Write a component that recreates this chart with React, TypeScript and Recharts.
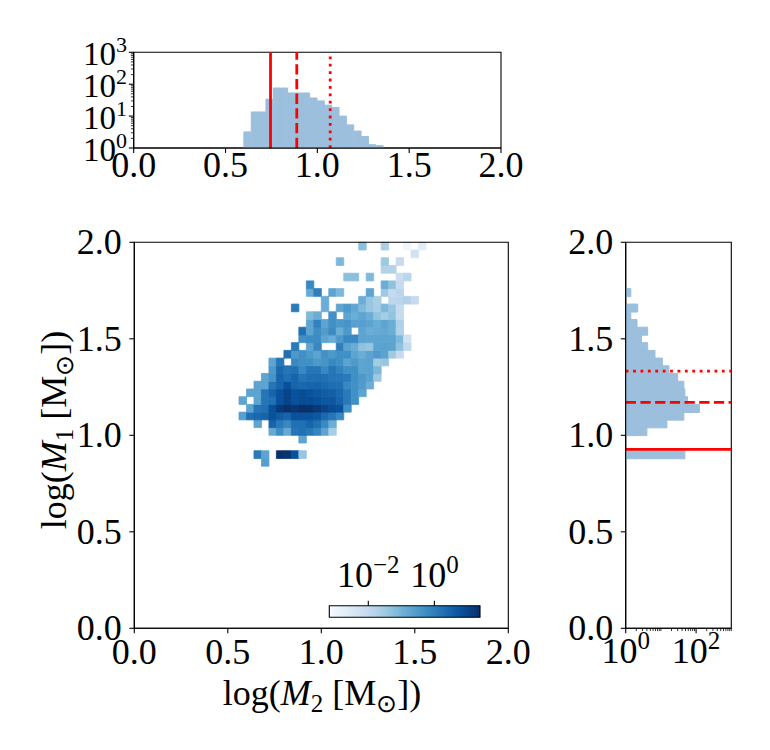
import React from 'react';
import { ComposedChart, XAxis, YAxis, Bar, ReferenceArea, ReferenceLine } from 'recharts';

const FONT = '"Liberation Serif", "Times New Roman", Times, serif';
const W = 770;
const H = 750;
const FS = 36;
const FS_SUP = 25;
const TICK_MAJOR = 4.9;
const TICK_MINOR = 2.8;
const SPINE = 1.1;
const HIST_COLOR = '#9bbfdc';
const RED = '#ff0000';

// ---------------- data ----------------
const BIN = 0.04;
const heatColStart = [
  0.56, 0.6, 0.64, 0.68, 0.72, 0.76, 0.8, 0.84, 0.88, 0.92, 0.96, 1.0, 1.04,
  1.08, 1.12, 1.16, 1.2, 1.24, 1.28, 1.32, 1.36, 1.4, 1.44, 1.48, 1.52,
];
const heatRowStart = [
  0.84, 0.88, 0.92, 0.96, 1.0, 1.04, 1.08, 1.12, 1.16, 1.2, 1.24, 1.28, 1.32,
  1.36, 1.4, 1.44, 1.48, 1.52, 1.56, 1.6, 1.64, 1.68, 1.72, 1.76, 1.8, 1.84,
  1.88, 1.92, 1.96,
];
// normalised density per cell (0 = empty), rows follow heatRowStart, columns heatColStart
const heatDensity = [
  [0, 0, 0, 0.25, 0, 0, 0, 0, 0, 0, 0, 0, 0, 0, 0, 0, 0, 0, 0, 0, 0, 0, 0, 0, 0],
  [0, 0, 1.2, 0.2, 0, 25, 20, 6.5, 0.04, 0, 0, 0, 0, 0, 0, 0, 0, 0, 0, 0, 0, 0, 0, 0, 0],
  [0, 0, 0, 0, 0, 0, 0, 0, 0, 0, 0, 0, 0, 0, 0, 0, 0, 0, 0, 0, 0, 0, 0, 0, 0],
  [0, 0, 0, 0, 0, 0, 0, 0, 0.2, 0, 0, 0, 0, 0, 0, 0, 0, 0, 0, 0, 0, 0, 0, 0, 0],
  [0, 0, 0, 0, 0.15, 0.55, 0.15, 1.5, 1.8, 1.3, 0.8, 0.2, 0.025, 0, 0, 0, 0, 0, 0, 0, 0, 0, 0, 0, 0],
  [0, 0, 0.2, 0, 3, 1.2, 0.7, 1.8, 1.8, 3, 1.8, 0.7, 0.13, 0, 0, 0, 0, 0, 0, 0, 0, 0, 0, 0, 0],
  [0.25, 1.8, 2.5, 3, 6.5, 4, 3, 6.5, 6.5, 6.5, 5, 2.5, 1.5, 0.7, 0, 0, 0, 0, 0, 0, 0, 0, 0, 0, 0],
  [0, 0.2, 1.5, 1.8, 6.5, 16, 22, 18, 25, 25, 16, 11, 8, 6.5, 0.5, 0, 0, 0, 0, 0, 0, 0, 0, 0, 0],
  [0.2, 0, 0.2, 1.5, 1.8, 6.5, 11, 6.5, 8, 8, 6.5, 5, 5, 3, 1.2, 0.48, 0, 0, 0, 0, 0, 0, 0, 0, 0],
  [0, 0.2, 0.2, 1.5, 3, 6.5, 11, 6.5, 8, 6.5, 5, 4, 3.5, 2.5, 1.2, 0.48, 0.2, 0, 0, 0, 0, 0, 0, 0, 0],
  [0, 0, 0.2, 0.2, 1.5, 3, 6.5, 3, 2.5, 3, 3, 2.5, 2, 1.8, 0.7, 0.48, 0.3, 0.13, 0, 0, 0, 0, 0, 0, 0],
  [0, 0, 0, 0.2, 0.4, 3, 1.8, 3, 1.5, 2, 2, 1.8, 1.5, 1.5, 1.2, 0.5, 0.33, 0.22, 0.035, 0, 0, 0, 0, 0, 0],
  [0, 0, 0, 0, 0.33, 2.5, 1.5, 1.8, 0.7, 1.5, 1.5, 0.7, 1.5, 0.9, 0.5, 0.5, 0.2, 0.22, 0.08, 0, 0, 0, 0, 0, 0],
  [0, 0, 0, 0, 0.2, 1.5, 0, 0.7, 0.5, 0.5, 0.33, 0.4, 0.7, 0.5, 0.2, 0.33, 0.2, 0.22, 0.03, 0.04, 0, 0, 0, 0, 0],
  [0, 0, 0, 0, 0, 0, 1.8, 0.33, 0.48, 0.33, 0.2, 0.48, 0.33, 0.5, 0.5, 0.2, 0.13, 0.22, 0.3, 0.22, 0.035, 0.009, 0, 0, 0],
  [0, 0, 0, 0, 0, 0, 0, 1.2, 0, 0.2, 0.7, 0, 0, 1.0, 0.2, 0.13, 0.05, 0.04, 0.2, 0.22, 0.2, 0.05, 0.01, 0, 0],
  [0, 0, 0, 0, 0, 0, 0, 0, 0.5, 0.6, 0.6, 0.2, 0.13, 0.33, 0.7, 0.7, 0.2, 0.2, 0.2, 0.2, 0.2, 0.075, 0.005, 0, 0],
  [0, 0, 0, 0, 0, 0, 0, 0, 1.8, 0.2, 0.55, 0.3, 0.6, 0.13, 0.33, 0, 0.2, 0.13, 0.15, 0.17, 0.13, 0.018, 0, 0, 0],
  [0, 0, 0, 0, 0, 0, 0, 0, 0, 0.2, 0.9, 0.2, 0.48, 0.33, 0.4, 0.25, 0.25, 0.2, 0.13, 0.2, 0.13, 0.02, 0, 0, 0],
  [0, 0, 0, 0, 0, 0, 0, 0, 0, 0.075, 0.13, 0, 0.48, 0, 0.2, 0.13, 0.2, 0.13, 0.045, 0.028, 0.045, 0.009, 0, 0, 0],
  [0, 0, 0, 0, 0, 0, 0, 1.2, 0, 0, 0, 0.13, 0, 0.2, 0.33, 0.18, 0.075, 0.04, 0.025, 0.08, 0.04, 0.009, 0, 0, 0],
  [0, 0, 0, 0, 0, 0, 0, 0, 0, 0, 0, 0.13, 0, 0, 0, 0, 0.13, 0.04, 0.023, 0, 0.012, 0.013, 0.018, 0.009, 0],
  [0, 0, 0, 0, 0, 0, 0, 0, 0, 0.15, 1.0, 0, 0.2, 0.08, 0, 0, 0, 0.2, 0, 0.035, 0.009, 0.013, 0, 0, 0],
  [0, 0, 0, 0, 0, 0, 0, 0, 0, 0.7, 0, 0, 0, 0, 0, 0, 0, 0, 0, 0.13, 0.05, 0.009, 0, 0, 0],
  [0, 0, 0, 0, 0, 0, 0, 0, 0, 0, 0, 0, 0, 0, 0.055, 0.055, 0, 0.075, 0, 0, 0, 0.007, 0.013, 0, 0],
  [0, 0, 0, 0, 0, 0, 0, 0, 0, 0, 0, 0, 0, 0, 0, 0, 0, 0, 0, 0.018, 0.018, 0, 0, 0, 0],
  [0, 0, 0, 0, 0, 0, 0, 0, 0, 0, 0, 0, 0, 0.08, 0, 0, 0, 0, 0, 0.034, 0, 0.009, 0, 0, 0],
  [0, 0, 0, 0, 0, 0, 0, 0, 0, 0, 0, 0, 0, 0, 0, 0, 0, 0, 0, 0, 0, 0, 0, 0.005, 0],
  [0, 0, 0, 0, 0, 0, 0, 0, 0, 0, 0, 0, 0, 0, 0, 0, 0.055, 0, 0, 0.023, 0, 0, 0.001, 0, 0.002],
];

// top marginal histogram (log M2)
const topBinStart = [
  0.6, 0.64, 0.68, 0.72, 0.76, 0.8, 0.84, 0.88, 0.92, 0.96, 1.0, 1.04, 1.08,
  1.12, 1.16, 1.2, 1.24, 1.28, 1.32,
];
const topCounts = [
  3.2, 13.5, 13.5, 34, 76, 76, 53, 53, 53, 37, 30, 22, 18.5, 10, 5.3, 3.4, 2.3,
  1.27, 1.18,
];
const topLines = [0.745, 0.888, 1.07];

// right marginal histogram (log M1)
const rightBinStart = [
  0.88, 1.0, 1.04, 1.08, 1.12, 1.16, 1.2, 1.24, 1.28, 1.32, 1.36, 1.4, 1.44,
  1.48, 1.52, 1.56, 1.6, 1.64, 1.72,
];
const rightCounts = [
  48, 4.0, 14.8, 45, 124, 57, 48, 45, 30, 17, 11, 6.8, 4.2, 2.8, 4.2, 2.1, 1.4,
  2.2, 1.4,
];
const rightLines = [0.927, 1.171, 1.332];

// ticks
const linTicks = [0, 0.5, 1, 1.5, 2];
const logTicks = [
  1, 2, 3, 4, 5, 6, 7, 8, 9, 10, 20, 30, 40, 50, 60, 70, 80, 90, 100, 200, 300,
  400, 500, 600, 700, 800, 900, 1000,
];
const topMajor = [1, 10, 100, 1000];
const rightMajor = [1, 100];
const cbTicks = [0.01, 1];
const CB_LOG_MIN = -3.18;
const CB_LOG_MAX = 1.38;

// ---------------- colour map ----------------
const BLUES = [
  [247, 251, 255],
  [222, 235, 247],
  [198, 219, 239],
  [158, 202, 225],
  [107, 174, 214],
  [66, 146, 198],
  [33, 113, 181],
  [8, 81, 156],
  [8, 48, 107],
];
const hex = (n: number) => Math.round(n).toString(16).padStart(2, '0');
function blues(t: number): string {
  const tt = Math.max(0, Math.min(1, t)) * 8;
  const i = Math.min(7, Math.floor(tt));
  const f = tt - i;
  const a = BLUES[i];
  const b = BLUES[i + 1];
  return '#' + [0, 1, 2].map((k) => hex(a[k] + (b[k] - a[k]) * f)).join('');
}
const densityColor = (v: number) =>
  blues((Math.log10(v) - CB_LOG_MIN) / (CB_LOG_MAX - CB_LOG_MIN));

const r4 = (v: number) => Math.round(v * 10000) / 10000;

const cells: { x1: number; x2: number; y1: number; y2: number; fill: string }[] = [];
heatDensity.forEach((row, ri) => {
  row.forEach((v, ci) => {
    if (v > 0) {
      cells.push({
        x1: heatColStart[ci],
        x2: r4(heatColStart[ci] + BIN),
        y1: heatRowStart[ri],
        y2: r4(heatRowStart[ri] + BIN),
        fill: densityColor(v),
      });
    }
  });
});

const topData = topBinStart.map((s, i) => ({ x: r4(s + BIN / 2), n: topCounts[i] }));
const rightData = rightBinStart.map((s, i) => ({ y: r4(s + BIN / 2), n: rightCounts[i] }));

// ---------------- tick renderers ----------------
const txt = { fontFamily: FONT, fontSize: FS, fill: '#000' };

function Pow({
  x,
  y,
  exp,
  anchor,
  size = FS,
  supSize = FS_SUP,
}: {
  x: number;
  y: number;
  exp: number;
  anchor: string;
  size?: number;
  supSize?: number;
}) {
  const e = exp < 0 ? '\u2212' + String(-exp) : String(exp);
  return (
    <text x={x} y={y} textAnchor={anchor as any} {...txt} fontSize={size}>
      10
      <tspan dy={-size * 0.39} fontSize={supSize}>
        {e}
      </tspan>
    </text>
  );
}

const makeLinXTick = (dy: number) => (props: any) => {
  const { x, y, payload } = props;
  return (
    <g>
      <line x1={x} x2={x} y1={y} y2={y + TICK_MAJOR} stroke="#000" strokeWidth={SPINE} />
      <text x={x} y={y + dy} textAnchor="middle" {...txt}>
        {Number(payload.value).toFixed(1)}
      </text>
    </g>
  );
};

const makeLinYTick = (dx: number, dy: number) => (props: any) => {
  const { x, y, payload } = props;
  return (
    <g>
      <line x1={x} x2={x - TICK_MAJOR} y1={y} y2={y} stroke="#000" strokeWidth={SPINE} />
      <text x={x - dx} y={y + dy} textAnchor="end" {...txt}>
        {Number(payload.value).toFixed(1)}
      </text>
    </g>
  );
};

const makeLogYTick = (majors: number[], dx: number, dy: number) => (props: any) => {
  const { x, y, payload } = props;
  const v = Number(payload.value);
  const major = majors.includes(v);
  return (
    <g>
      <line
        x1={x}
        x2={x - (major ? TICK_MAJOR : TICK_MINOR)}
        y1={y}
        y2={y}
        stroke="#000"
        strokeWidth={major ? SPINE : 0.8}
      />
      {major && (
        <Pow
          x={x - dx}
          y={y + dy}
          exp={Math.round(Math.log10(v))}
          anchor="end"
          size={33}
          supSize={22}
        />
      )}
    </g>
  );
};

const makeLogXTick = (majors: number[], dy: number) => (props: any) => {
  const { x, y, payload } = props;
  const v = Number(payload.value);
  const major = majors.includes(v);
  return (
    <g>
      <line
        x1={x}
        x2={x}
        y1={y}
        y2={y + (major ? TICK_MAJOR : TICK_MINOR)}
        stroke="#000"
        strokeWidth={major ? SPINE : 0.8}
      />
      {major && <Pow x={x} y={y + dy} exp={Math.round(Math.log10(v))} anchor="middle" />}
    </g>
  );
};

const cbTick = (props: any) => {
  const { x, y, payload } = props;
  const v = Number(payload.value);
  return (
    <g>
      <line x1={x} x2={x} y1={y} y2={y - TICK_MAJOR} stroke="#000" strokeWidth={SPINE} />
      <Pow x={x} y={y - 19} exp={Math.round(Math.log10(v))} anchor="middle" />
    </g>
  );
};

const spine = { stroke: '#000', strokeWidth: SPINE };
const abs: React.CSSProperties = { position: 'absolute', left: 0, top: 0 };

// ---------------- charts ----------------
function MainChart() {
  return (
    <div style={abs}>
      <ComposedChart
        width={W}
        height={H}
        margin={{ top: 242.3, right: 261.7, bottom: 81.7, left: 74.3 }}
        data={[{ x: 0, y: 0 }, { x: 2, y: 2 }]}
      >
        <XAxis
          type="number"
          dataKey="x"
          domain={[0, 2]}
          ticks={linTicks}
          interval={0}
          allowDataOverflow
          tick={makeLinXTick(35.7)}
          tickLine={false}
          tickSize={0}
          tickMargin={0}
          axisLine={spine}
          height={40}
        />
        <YAxis
          type="number"
          dataKey="y"
          domain={[0, 2]}
          ticks={linTicks}
          interval={0}
          allowDataOverflow
          tick={makeLinYTick(12.5, 12)}
          tickLine={false}
          tickSize={0}
          tickMargin={0}
          axisLine={spine}
          width={60}
        />
        {cells.map((c, i) => (
          <ReferenceArea
            key={i}
            x1={c.x1}
            x2={c.x2}
            y1={c.y1}
            y2={c.y2}
            fill={c.fill}
            fillOpacity={1}
            stroke={c.fill}
            strokeWidth={0.8}
            ifOverflow="visible"
          />
        ))}
        <ReferenceArea x1={0} x2={2} y1={0} y2={2} fill="none" stroke="#000" strokeWidth={SPINE} />
      </ComposedChart>
    </div>
  );
}

const lineStyles = [undefined, '10.3 4.4', '2.8 4.6'];

function TopHist() {
  return (
    <div style={abs}>
      <ComposedChart
        width={W}
        height={H}
        margin={{ top: 52.3, right: 269, bottom: 562, left: 73.7 }}
        data={topData}
        barCategoryGap={0}
        barGap={0}
      >
        <XAxis
          type="number"
          dataKey="x"
          domain={[0, 2]}
          ticks={linTicks}
          interval={0}
          allowDataOverflow
          tick={makeLinXTick(29)}
          tickLine={false}
          tickSize={0}
          tickMargin={0}
          axisLine={spine}
          height={40}
        />
        <YAxis
          type="number"
          scale="log"
          domain={[1, 1000]}
          ticks={logTicks}
          interval={0}
          allowDataOverflow
          tick={makeLogYTick(topMajor, 6.7, 13)}
          tickLine={false}
          tickSize={0}
          tickMargin={0}
          axisLine={spine}
          width={60}
        />
        <Bar
          dataKey="n"
          fill={HIST_COLOR}
          stroke={HIST_COLOR}
          strokeWidth={1}
          isAnimationActive={false}
        />
        {topLines.map((v, i) => (
          <ReferenceLine
            key={i}
            x={v}
            stroke={RED}
            strokeWidth={2.8}
            strokeDasharray={lineStyles[i]}
          />
        ))}
        <ReferenceArea x1={0} x2={2} y1={1} y2={1000} fill="none" stroke="#000" strokeWidth={SPINE} />
      </ComposedChart>
    </div>
  );
}

function RightHist() {
  return (
    <div style={abs}>
      <ComposedChart
        layout="vertical"
        width={W}
        height={H}
        margin={{ top: 242.3, right: 38.7, bottom: 81.7, left: 565.7 }}
        data={rightData}
        barCategoryGap={0}
        barGap={0}
      >
        <XAxis
          type="number"
          scale="log"
          domain={[1, 1000]}
          ticks={logTicks}
          interval={0}
          allowDataOverflow
          tick={makeLogXTick(rightMajor, 34.7)}
          tickLine={false}
          tickSize={0}
          tickMargin={0}
          axisLine={spine}
          height={40}
        />
        <YAxis
          type="number"
          dataKey="y"
          domain={[0, 2]}
          reversed
          ticks={linTicks}
          interval={0}
          allowDataOverflow
          tick={makeLinYTick(12.5, 12)}
          tickLine={false}
          tickSize={0}
          tickMargin={0}
          axisLine={spine}
          width={60}
        />
        <Bar
          dataKey="n"
          fill={HIST_COLOR}
          stroke={HIST_COLOR}
          strokeWidth={1}
          isAnimationActive={false}
        />
        {rightLines.map((v, i) => (
          <ReferenceLine
            key={i}
            y={v}
            stroke={RED}
            strokeWidth={2.8}
            strokeDasharray={lineStyles[i]}
          />
        ))}
        <ReferenceArea x1={1} x2={1000} y1={0} y2={2} fill="none" stroke="#000" strokeWidth={SPINE} />
      </ComposedChart>
    </div>
  );
}

const CB_MIN = Math.pow(10, CB_LOG_MIN);
const CB_MAX = Math.pow(10, CB_LOG_MAX);

function ColorBar() {
  return (
    <div style={abs}>
      <ComposedChart
        width={W}
        height={H}
        margin={{ top: 565.7, right: 290, bottom: 132.7, left: 329.3 }}
        data={[{ x: CB_MIN, y: 0 }, { x: CB_MAX, y: 1 }]}
      >
        <defs>
          <linearGradient id="cbBlues" x1="0" x2="1" y1="0" y2="0">
            {BLUES.map((c, i) => (
              <stop key={i} offset={i / 8} stopColor={`rgb(${c[0]},${c[1]},${c[2]})`} />
            ))}
          </linearGradient>
        </defs>
        <XAxis
          type="number"
          dataKey="x"
          orientation="top"
          scale="log"
          domain={[CB_MIN, CB_MAX]}
          ticks={cbTicks}
          interval={0}
          allowDataOverflow
          tick={cbTick}
          tickLine={false}
          tickSize={0}
          tickMargin={0}
          axisLine={false}
          height={40}
        />
        <YAxis type="number" dataKey="y" domain={[0, 1]} hide />
        <ReferenceArea
          x1={CB_MIN}
          x2={CB_MAX}
          y1={0}
          y2={1}
          fill="url(#cbBlues)"
          fillOpacity={1}
          stroke="#000"
          strokeWidth={SPINE}
        />
      </ComposedChart>
    </div>
  );
}

function Labels() {
  return (
    <svg width={W} height={H} style={{ ...abs, pointerEvents: 'none' }}>
      <text x={322} y={705} textAnchor="middle" {...txt}>
        log(
        <tspan fontStyle="italic">M</tspan>
        <tspan fontSize={FS_SUP} dy={7}>
          2
        </tspan>
        <tspan dy={-7}>{' [M'}</tspan>
        <tspan fontSize={FS_SUP} dy={7}>
          ⊙
        </tspan>
        <tspan dy={-7}>])</tspan>
      </text>
      <text transform="rotate(-90)" x={-430} y={66} textAnchor="middle" {...txt}>
        log(
        <tspan fontStyle="italic">M</tspan>
        <tspan fontSize={FS_SUP} dy={7}>
          1
        </tspan>
        <tspan dy={-7}>{' [M'}</tspan>
        <tspan fontSize={FS_SUP} dy={7}>
          ⊙
        </tspan>
        <tspan dy={-7}>])</tspan>
      </text>
    </svg>
  );
}

export default function App() {
  return (
    <div style={{ position: 'absolute', left: 0, top: 0, width: W, height: H, background: '#fff' }}>
      <MainChart />
      <TopHist />
      <RightHist />
      <ColorBar />
      <Labels />
    </div>
  );
}
